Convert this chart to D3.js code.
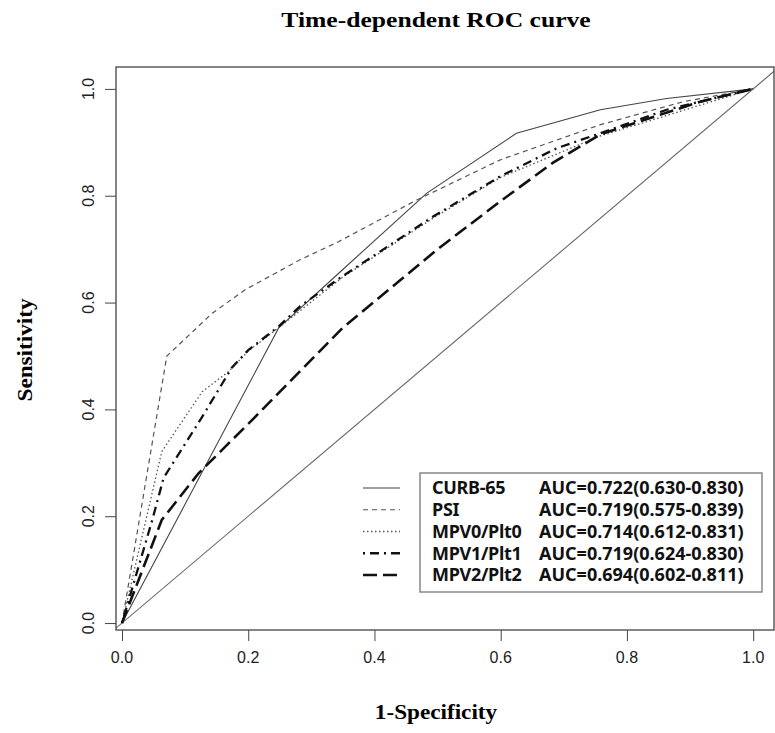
<!DOCTYPE html>
<meta charset="utf-8">
<style>
body { margin: 0; background: #fff; }
.axis path { display: none; }
.axis line { stroke: #444; }
.tick-label { font: 16px "Liberation Sans", Arial, sans-serif; fill: #222; }
.title { font: bold 21.5px "Liberation Serif", "Times New Roman", serif; fill: #000; }
.axis-title { font: bold 20px "Liberation Serif", "Times New Roman", serif; fill: #000; }
.legend-text { font: bold 18px "Noto Sans", "Open Sans", sans-serif; fill: #111; }
.curve { fill: none; }
</style>
<svg width="775" height="733"></svg>
<script src="https://d3js.org/d3.v7.min.js"></script>
<script>
// tick values
var xTicks = [0, 0.2, 0.4, 0.6, 0.8, 1.0];
var yTicks = [0, 0.2, 0.4, 0.6, 0.8, 1.0];

// legend labels
var seriesNames = ["CURB-65", "PSI", "MPV0/Plt0", "MPV1/Plt1", "MPV2/Plt2"];
var aucLabels = ["AUC=0.722(0.630-0.830)", "AUC=0.719(0.575-0.839)", "AUC=0.714(0.612-0.831)",
                 "AUC=0.719(0.624-0.830)", "AUC=0.694(0.602-0.811)"];

// ROC points (1-specificity, sensitivity)
var curbFpr = [0, 0.248, 0.349, 0.483, 0.625, 0.758, 0.863, 1.0];
var curbTpr = [0, 0.552, 0.661, 0.805, 0.917, 0.961, 0.982, 1.0];

var psiFpr = [0, 0.071, 0.143, 0.195, 0.282, 0.343, 0.467, 0.599, 0.758, 0.889, 1.0];
var psiTpr = [0, 0.500, 0.580, 0.624, 0.680, 0.714, 0.792, 0.867, 0.933, 0.976, 1.0];

var mpv0Fpr = [0, 0.063, 0.127, 0.169, 0.200, 0.248, 0.349, 0.493, 0.599, 0.758, 0.942, 1.0];
var mpv0Tpr = [0, 0.321, 0.433, 0.471, 0.509, 0.553, 0.647, 0.758, 0.834, 0.912, 0.979, 1.0];

var mpv1Fpr = [0, 0.048, 0.066, 0.127, 0.174, 0.200, 0.248, 0.282, 0.349, 0.493, 0.599, 0.689, 0.758, 0.863, 1.0];
var mpv1Tpr = [0, 0.193, 0.272, 0.386, 0.478, 0.511, 0.555, 0.593, 0.649, 0.761, 0.836, 0.889, 0.917, 0.961, 1.0];

var mpv2Fpr = [0, 0.063, 0.121, 0.206, 0.349, 0.499, 0.600, 0.683, 0.758, 0.916, 1.0];
var mpv2Tpr = [0, 0.193, 0.280, 0.380, 0.552, 0.699, 0.790, 0.862, 0.915, 0.976, 1.0];

var styles = [
  {stroke: "#444", width: 1.1, dash: null},
  {stroke: "#555", width: 1.2, dash: "5,4"},
  {stroke: "#555", width: 1.3, dash: "1.5,2.5"},
  {stroke: "#111", width: 2.3, dash: "2,5,9,5"},
  {stroke: "#111", width: 2.6, dash: "14,6"}
];

var series = [
  {fpr: curbFpr, tpr: curbTpr},
  {fpr: psiFpr, tpr: psiTpr},
  {fpr: mpv0Fpr, tpr: mpv0Tpr},
  {fpr: mpv1Fpr, tpr: mpv1Tpr},
  {fpr: mpv2Fpr, tpr: mpv2Tpr}
].map(function(s, i) {
  return {name: seriesNames[i], style: styles[i],
          values: s.fpr.map(function(f, j) { return {x: f, y: s.tpr[j]}; })};
});

var svg = d3.select("svg"),
    box = {left: 116, right: 774, top: 67, bottom: 630};

var x = d3.scaleLinear().domain([-0.0095, 1.033]).range([box.left, box.right]),
    y = d3.scaleLinear().domain([-0.013, 1.041]).range([box.bottom, box.top]);

svg.append("rect").attr("width", 775).attr("height", 733).attr("fill", "#fff");

svg.append("clipPath").attr("id", "plotclip")
  .append("rect")
    .attr("x", box.left).attr("y", box.top)
    .attr("width", box.right - box.left).attr("height", box.bottom - box.top);

// axes
svg.append("g")
    .attr("class", "axis")
    .attr("transform", "translate(0," + box.bottom + ")")
    .call(d3.axisBottom(x).tickValues(xTicks).tickSize(11).tickFormat(""));

svg.append("g")
    .attr("class", "axis")
    .attr("transform", "translate(" + box.left + ",0)")
    .call(d3.axisLeft(y).tickValues(yTicks).tickSize(11).tickFormat(""));

svg.selectAll(".xlab")
  .data(xTicks)
  .enter().append("text")
    .attr("class", "tick-label")
    .attr("x", function(d) { return x(d); })
    .attr("y", 663)
    .attr("text-anchor", "middle")
    .text(d3.format(".1f"));

svg.selectAll(".ylab")
  .data(yTicks)
  .enter().append("text")
    .attr("class", "tick-label")
    .attr("transform", function(d) { return "translate(88," + y(d) + ") rotate(-90)"; })
    .attr("dy", "0.35em")
    .attr("text-anchor", "middle")
    .text(d3.format(".1f"));

// reference diagonal
var plot = svg.append("g").attr("clip-path", "url(#plotclip)");

plot.append("line")
    .attr("x1", x(-0.05)).attr("y1", y(-0.05))
    .attr("x2", x(1.1)).attr("y2", y(1.1))
    .attr("stroke", "#666")
    .attr("stroke-width", 1.1);

var line = d3.line()
    .x(function(d) { return x(d.x); })
    .y(function(d) { return y(d.y); });

plot.selectAll(".curve")
  .data(series)
  .enter().append("path")
    .attr("class", "curve")
    .attr("d", function(d) { return line(d.values); })
    .attr("stroke", function(d) { return d.style.stroke; })
    .attr("stroke-width", function(d) { return d.style.width; })
    .attr("stroke-dasharray", function(d) { return d.style.dash; });

// plot frame
svg.append("rect")
    .attr("x", box.left).attr("y", box.top)
    .attr("width", box.right - box.left).attr("height", box.bottom - box.top)
    .attr("fill", "none")
    .attr("stroke", "#444")
    .attr("stroke-width", 1.3);

// titles
svg.append("text")
    .attr("class", "title")
    .attr("transform", "translate(436,27) scale(1.19,1)")
    .attr("text-anchor", "middle")
    .text("Time-dependent ROC curve");

svg.append("text")
    .attr("class", "axis-title")
    .attr("transform", "translate(436,719) scale(1.16,1)")
    .attr("text-anchor", "middle")
    .text("1-Specificity");

svg.append("text")
    .attr("class", "axis-title")
    .attr("transform", "translate(32,350) rotate(-90) scale(1.16,1)")
    .attr("text-anchor", "middle")
    .text("Sensitivity");

// legend
var rowY = d3.scalePoint().domain(seriesNames).range([488, 575]);

svg.append("rect")
    .attr("x", 420).attr("y", 473)
    .attr("width", 342).attr("height", 119)
    .attr("fill", "#fff")
    .attr("stroke", "#888")
    .attr("stroke-width", 1.5);

var leg = svg.selectAll(".legend")
  .data(series)
  .enter().append("g")
    .attr("class", "legend")
    .attr("transform", function(d) { return "translate(0," + rowY(d.name) + ")"; });

leg.append("line")
    .attr("x1", 363).attr("x2", 400)
    .attr("stroke", function(d) { return d.style.stroke; })
    .attr("stroke-width", function(d) { return d.style.width; })
    .attr("stroke-dasharray", function(d) { return d.style.dash; });

leg.append("text")
    .attr("class", "legend-text")
    .attr("x", 432)
    .attr("dy", "0.35em")
    .attr("letter-spacing", "-0.3px")
    .text(function(d) { return d.name; });

leg.append("text")
    .attr("class", "legend-text")
    .attr("x", 539)
    .attr("dy", "0.35em")
    .text(function(d, i) { return aucLabels[i]; });
</script>
